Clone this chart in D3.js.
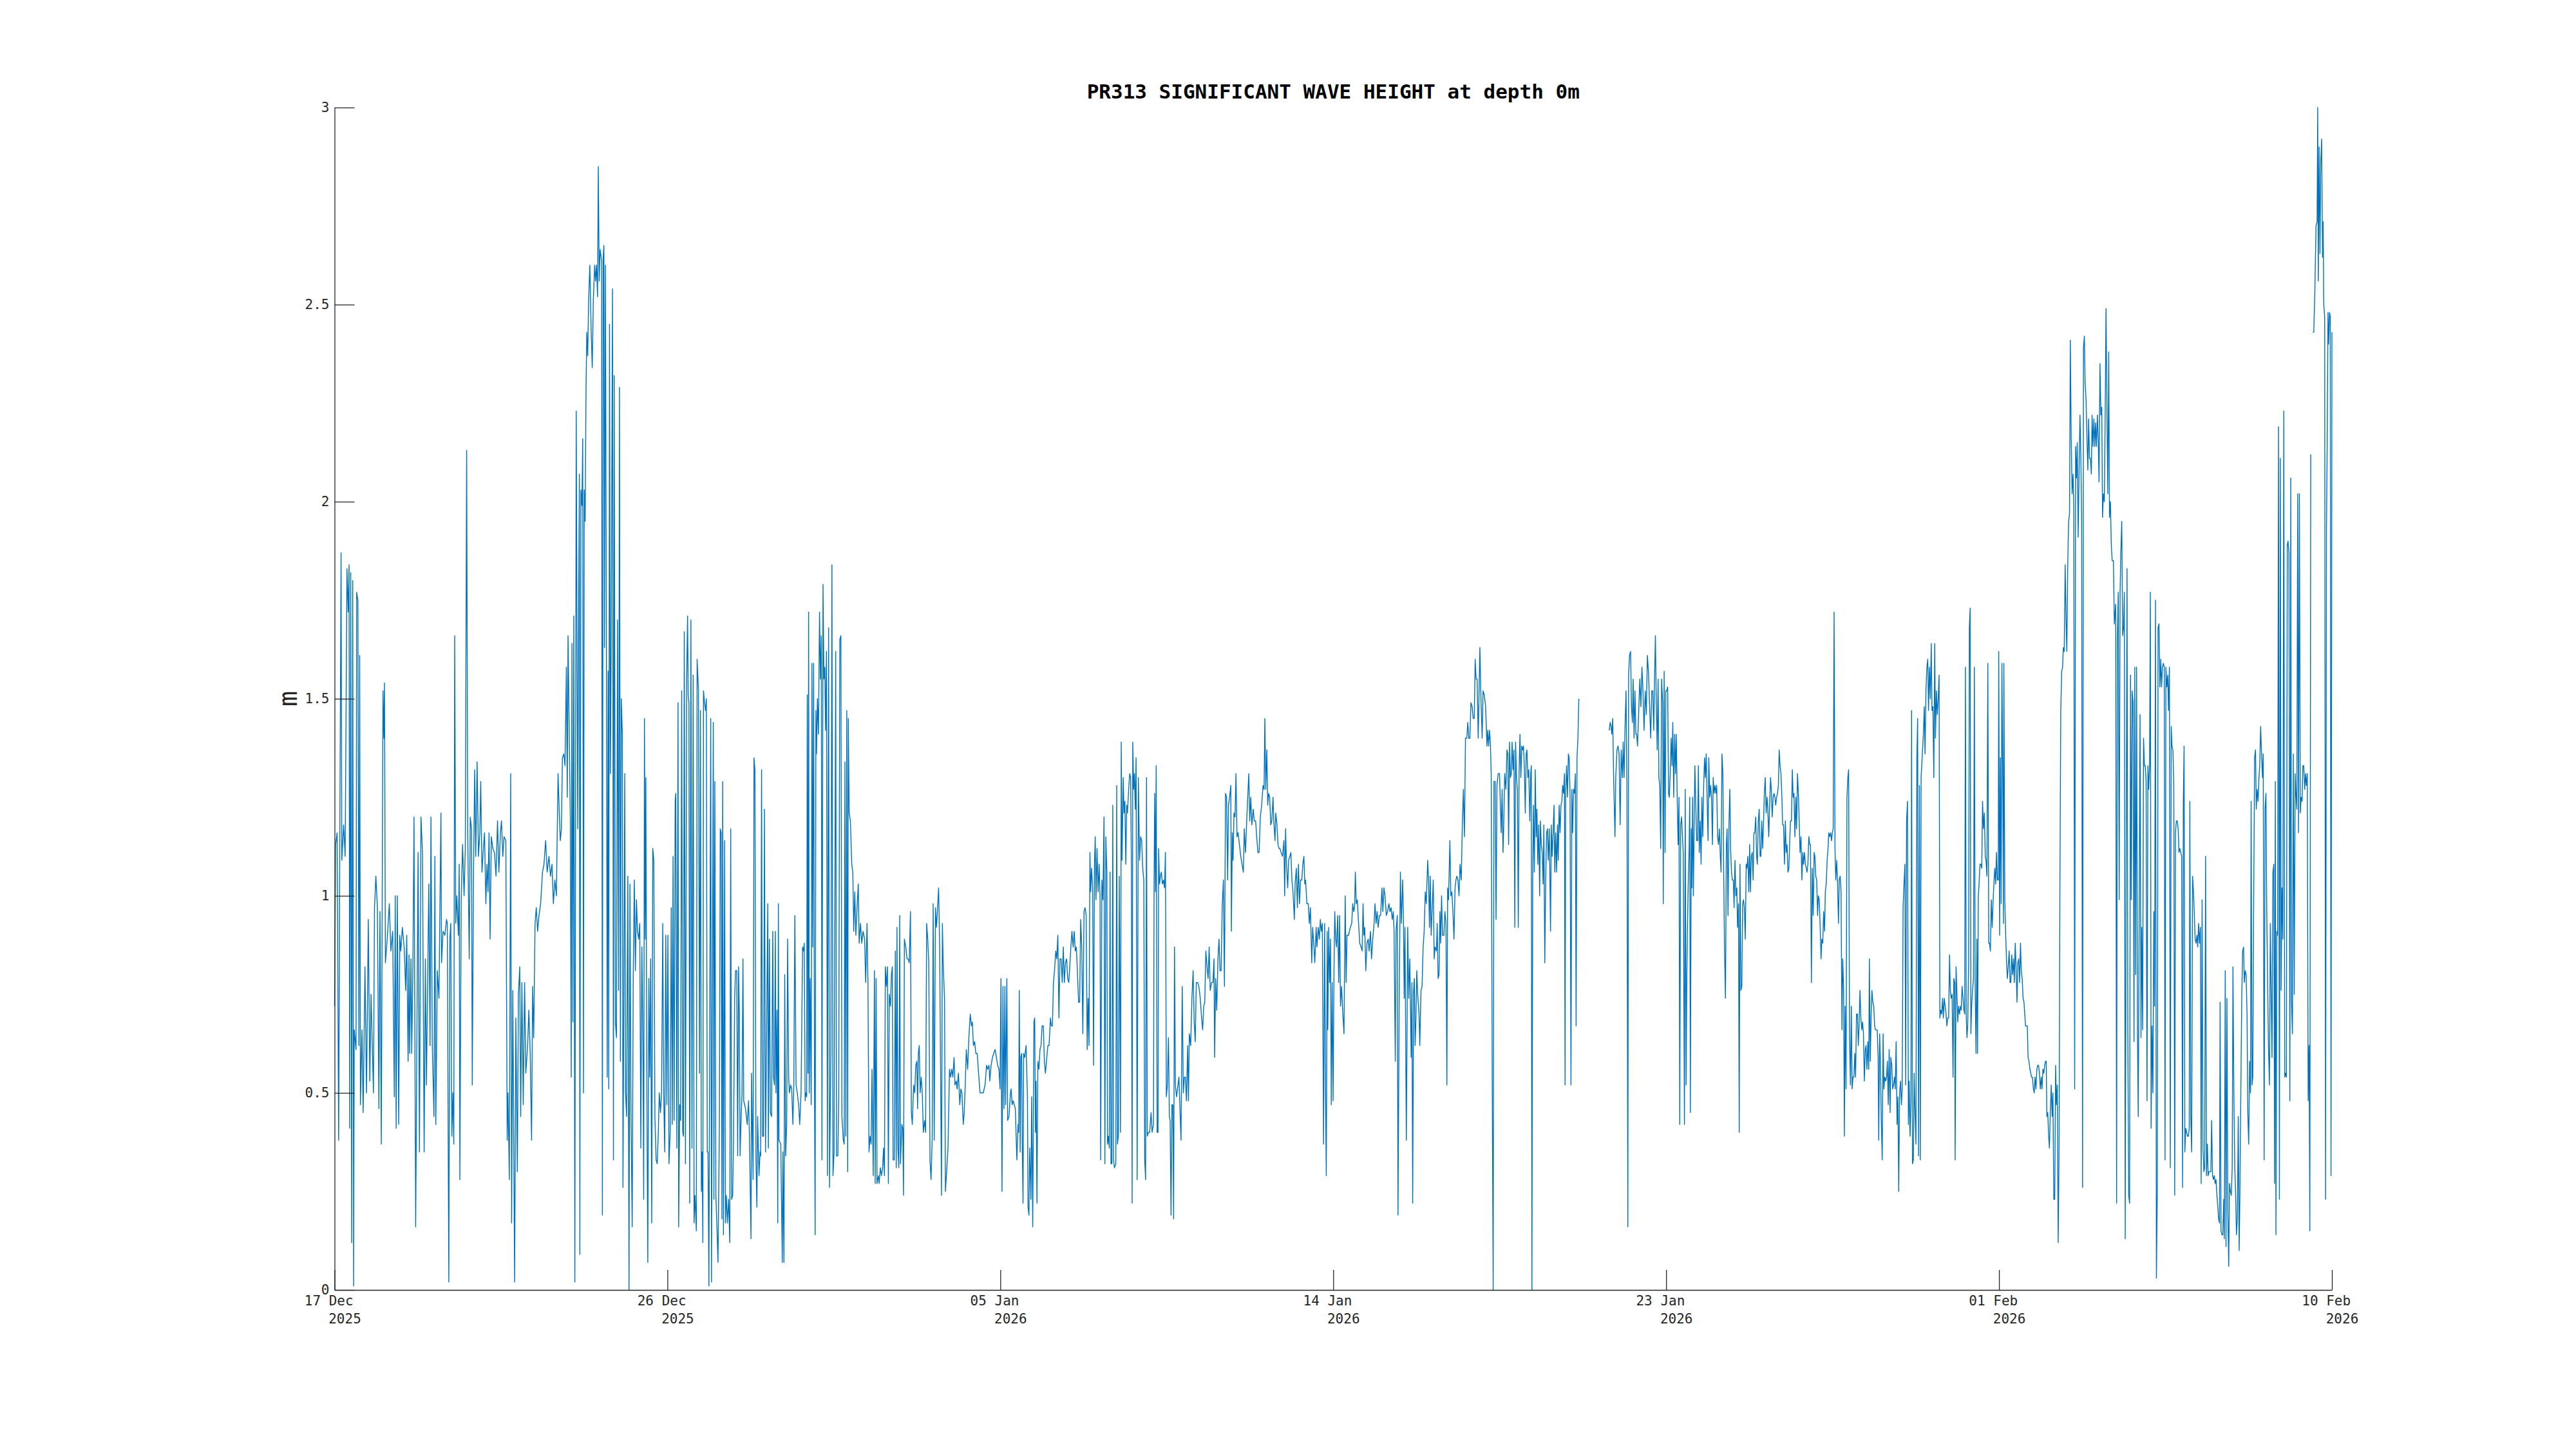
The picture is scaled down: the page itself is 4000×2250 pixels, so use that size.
<!DOCTYPE html>
<html><head><meta charset="utf-8">
<script src="https://cdn.jsdelivr.net/npm/d3@7"></script>
<style>body{margin:0;background:#fff}</style>
</head><body>
<svg id="chart" width="4000" height="2250" xmlns="http://www.w3.org/2000/svg"></svg>
<script>
const titleText = "PR313 SIGNIFICANT WAVE HEIGHT at depth 0m";
const yLabelText = "m";
const startTime = "2025-12-17T18:00:00";
const spanHours = 1320;
const xTickHours = [0, 220, 440, 660, 880, 1100, 1320];
const xTickDay = ["17 Dec", "26 Dec", "05 Jan", "14 Jan", "23 Jan", "01 Feb", "10 Feb"];
const xTickYear = ["2025", "2025", "2026", "2026", "2026", "2026", "2026"];
const yTickValues = [0, 0.5, 1, 1.5, 2, 2.5, 3];
const yTickLabels = ["0", "0.5", "1", "1.5", "2", "2.5", "3"];

// [hours since start, significant wave height (m)]
const waveDec17 = [[0,0.72],[0.7,1.13],[1.7,1.16],[2.7,0.38],[3.6,1.26],[4.3,1.87],[4.8,1.09],[6,1.18],[7,1.1],[8.2,1.83],
[9,1.72],[9.6,1.84],[10,0.41],[10.7,1.82],[11.3,0.12],[12,1.8],[12.6,0.01],[13,0.66],[14.2,0.61],[14.6,1.77],
[15.4,1.75],[16.1,0.62],[16.6,1.61],[17.1,0.47],[18.1,0.66],[18.9,0.45],[20.1,0.82],[21.1,0.5],[22.3,0.94],[23.3,0.53],
[24.1,0.75],[25.7,0.5],[26.4,0.97],[27.3,1.05],[28.3,0.97],[29.3,0.46],[30,0.96],[30.9,0.37],[32,1.52],[32.6,1.4],
[33,1.54],[33.6,0.83],[34.8,0.89],[36.2,0.98],[37.2,0.86],[38.4,0.91],[39.5,0.49],[40.1,1],[40.7,0.41],[41.5,1],
[42.4,0.42],[43.1,0.9],[43.8,0.86],[44.8,0.92],[46,0.87],[47,0.76],[47.7,0.9],[48.6,0.58],[49.2,0.85],[49.6,0.6],
[50.5,0.84],[51,0.6],[51.8,0.83],[52.5,1.2],[53.6,0.16],[55.2,1.11],[56.1,0.35],[57.1,1.2],[58.1,1.11],[59.2,0.35],
[60,0.84],[60.7,0.52],[62.3,1.03],[63.1,0.62],[63.7,1.2],[64.6,0.62],[65.7,0.44],[66.3,1.1],[66.9,0.42],[67.9,0.81],
[69,0.74],[70.3,1.21],[70.7,0.83],[71.7,0.91],[72.9,0.9],[74,0.94],[74.5,0.93],[75.5,0.02],[76.2,0.89],[76.8,0.93],
[77.5,0.39],[78.2,0.5],[78.8,0.37],[79.4,1.66],[80.1,0.93],[80.8,1],[81.8,0.9],[82.4,1.08],[82.8,0.28],[83.7,0.99],
[84.6,1.13],[85.6,1],[86.4,1.12],[87.3,2.13],[88,1.16],[89,0.84],[89.7,1.2],[90.5,1.17],[91,0.52],[91.8,1.04],
[92.6,1.32],[93.3,1.1],[94.2,1.34],[95.1,1.1],[96,1.16],[96.6,1.29],[97.4,1.06],[98.2,1.11],[99.1,1.16],[100,0.98],
[100.7,1.08],[101.4,1.01],[102.1,1.16],[102.8,0.89],[103.6,1.15],[104.6,1.12],[105.7,1.11],[106.7,1.05],[107.7,1.19],[108.6,1.06],
[109.6,1.16],[110.3,1.19],[111.2,1.1],[112,1.15],[113.2,1.14],[114.1,0.38],[114.6,0.5],[115.5,0.28],[116.4,1.31],[117,0.17],
[117.8,0.76],[119,0.02],[119.8,0.69],[120.8,0.3],[121.5,0.75],[122.4,0.82],[123,0.44],[123.8,0.78],[124.7,0.47],[125.6,0.78],
[126.4,0.55],[127.6,0.62],[128.4,0.71],[129.3,0.6],[130.2,0.38],[130.9,0.77],[131.6,0.64],[132.5,0.93],[133.3,0.97],[134.2,0.91],
[135.1,0.95],[136.2,0.98],[137.4,1.06],[138.4,1.08],[139.5,1.14],[140.5,1.06],[141.7,1.1],[142.7,1.05],[143.7,1.08],[144.6,0.98],
[145.6,1.04],[146.6,1],[147.7,1.31],[148.6,1.2],[149.2,1.14],[149.9,1.17],[150.6,1.35],[151.5,1.36],[152.3,1.33],[153.2,1.58],
[153.8,1.25],[154.3,1.66],[154.9,1.47],[155.8,1.2],[156.4,0.54],[156.9,1.64],[157.5,0.68],[158.1,1.71],[158.8,0.02],[159.7,2.23],
[160.7,1.17],[161.4,1.78],[161.8,2.07],[162.1,0.09],[162.8,2.03],[163.5,1.99],[164,2.16],[164.5,0.5],[165,2.03],[165.6,1.95],
[166.2,2.29],[166.7,2.43],[167.3,2.37],[167.9,2.51],[168.7,2.6],[169.6,2.43],[170.3,2.34],[171,2.51],[171.9,2.6],[172.5,2.56],
[173.1,2.6],[173.8,2.52],[174.3,2.85],[174.9,2.56],[175.5,2.64],[176.5,2.61],[177,0.19],[177.5,2.62],[178,2.65],[178.4,1.63],
[179,2.6],[179.7,1.57],[180.2,0.54],[180.8,1.57],[181.2,0.51],[181.7,2.45],[182.3,1.31],[182.8,1.62],[183.7,2.54],[184.3,0.33],
[184.8,2.32],[185.6,0.68],[186.3,0.64],[187,1.7],[187.7,0.76],[188.3,2.29],[188.9,0.58],[189.5,1.5],[190.2,1.41],[190.6,0.26],
[191.2,0.76],[191.8,1.31],[192.3,0.5],[193,0.44],[193.8,1.05],[194.6,0],[195.2,1.03],[195.9,0.45],[196.7,0.16],[197.4,0.8],
[198.1,1.04],[198.8,0.81],[199.5,0.99],[200.2,0.91],[201,0.89],[201.7,0.93],[202.4,0.36],[203.1,0.87],[203.8,0.62],[204.3,0.23],
[204.8,1.45],[205.3,0.89],[205.7,1.3],[206.4,0.5],[207,0.07],[207.7,0.79],[208.3,0.54],[208.9,0.84],[209.6,0.17],[210.3,1.12],
[211,1.09],[211.7,0.44],[212.5,0.33],[213.2,0.32],[213.9,0.39],[214.6,0.5],[215.4,0.45],[216.1,0.5],[216.9,0.93],[217.5,0.5],
[218.2,0.35],[218.9,0.9],[219.6,0.47],[220.3,0.9],[221,0.32],[221.8,0.4],[222.5,0.97],[223.2,0.42]];

const waveDec26 = [[223.7,1.1],[224.4,0.43],[225.1,1.24],[225.5,1.26],[226.2,0.36],[227,1.49],[227.4,0.16],[228.1,0.47],[228.7,0.43],[229.4,1.52],
[230.1,0.4],[230.6,0.39],[231.1,1.67],[231.9,0.32],[232.7,1.55],[233.3,1.71],[233.7,1.51],[234.2,1.49],[234.7,0.22],[235.5,1.7],
[236.2,0.36],[237,1.56],[237.6,0.17],[238.2,0.24],[239.1,0.15],[239.6,1.6],[240.5,1.52],[241.2,0.55],[241.8,1.47],[242.4,0.25],
[242.9,0.35],[243.4,0.12],[243.8,1.52],[244.5,1.49],[245.2,1.47],[245.7,1.5],[246.3,0.35],[246.8,0.35],[247.4,0.01],[248.6,1.45],
[249.1,0.02],[250.3,1.44],[250.7,0.23],[251.3,1.29],[252,0.24],[252.7,0.16],[253.4,0.07],[254.3,0.41],[254.9,1.17],[255.5,1.16],
[256,0.18],[256.5,1.29],[257,0.14],[257.8,1.14],[258.3,0.17],[258.9,0.24],[259.6,0.17],[260.4,0.23],[261.2,0.12],[261.8,1.17],
[262.4,0.23],[263.1,0.24],[263.7,0.39],[264.4,0.74],[265,0.81],[265.8,0.81],[266.4,0.34],[267,0.82],[267.5,0.7],[268,0.34],
[268.7,0.44],[269.3,0.5],[269.9,0.84],[270.4,0.48],[271.6,0.46],[272.7,0.42],[273.6,0.48],[274.2,0.39],[275.2,0.13],[275.6,0.55],
[276.6,0.28],[277.2,1.35],[277.8,1.32],[278.5,0.33],[279.1,0.21],[279.6,0.44],[280.5,0.29],[281.2,0.35],[281.6,0.34],[282.2,1.32],
[282.8,0.39],[283.5,0.39],[284.1,1.22],[284.8,0.35],[285.4,0.6],[286.3,0.98],[286.7,0.36],[287.4,0.89],[288,0.45],[288.8,0.44],
[289.6,0.91],[290.1,0.54],[290.7,0.52],[291.3,0.91],[291.7,0.5],[292.4,0.71],[292.9,0.17],[293.3,0.98],[293.7,0.38],[294.9,0.37],
[295.9,0.07],[296.3,0.35],[297,0.07],[297.5,0.8],[298.1,0.34],[298.8,0.42],[299.4,0.89],[300.1,0.54],[300.6,0.5],[301.4,0.52],
[302.1,0.51],[302.9,0.42],[303.5,0.52],[304.2,0.95],[305,0.52],[305.8,0.5],[306.7,0.47],[307.4,0.42],[308.3,0.5],[309.3,0.87],
[309.9,0.86],[310.4,0.88],[311,0.48],[311.4,0.5],[312,0.49],[312.4,1.51],[312.9,0.55],[313.3,1.72],[313.7,0.5],[314.3,0.79],
[315,0.47],[315.5,1.59],[316,0.87],[316.6,1.59],[317.2,0.5],[317.6,0.14],[318.1,1.47],[318.5,1.36],[319.1,1.5],[319.8,1.41],
[320.5,1.72],[321.1,1.55],[321.7,1.66],[322.1,0.33],[322.8,1.79],[323.4,1.55],[324,1.58],[324.5,1.42],[325.1,1.62],[325.7,0.29],
[326.5,1.68],[327.1,0.26],[328,0.61],[328.7,1.84],[329.4,0.29],[330.1,0.35],[331.2,1.62],[331.7,0.34],[332.6,0.34],[333.2,0.49],
[333.9,1.65],[334.6,1.66],[335.3,0.44],[336.2,0.38],[336.8,0.37],[337.3,1.34],[337.9,0.39],[338.5,1.47],[339.1,0.3],[339.5,1.45],
[340.1,1.21],[340.9,1.19],[341.8,1.08],[342.5,1.06],[343.1,0.91],[343.8,1.01],[344.5,0.9],[345.3,0.97],[346.1,1.03],[346.7,0.88],
[347.6,0.93],[348.4,0.88],[349.3,0.91],[350.3,0.89],[351,0.78],[351.9,0.93],[352.5,0.78],[353.2,0.35],[353.9,0.39],[354.6,0.37],
[355.2,0.56],[356,0.29],[356.8,0.81],[357.3,0.27],[357.9,0.79],[358.5,0.27],[359.4,0.29],[359.9,0.27],[360.7,0.31],[361.4,0.29],
[362.2,0.31],[362.8,0.36],[363.4,0.29],[364,0.82],[364.7,0.77],[365.4,0.82],[366,0.27],[366.6,0.75],[367.4,0.72],[368,0.8],
[368.6,0.82],[369.1,0.33],[369.9,0.33],[370.6,0.86],[371.2,0.31],[371.7,0.92],[372.3,0.36],[372.9,0.31],[373.5,0.95],[374,0.32],
[374.9,0.42],[375.5,0.41],[376,0.24],[376.6,0.89],[377.5,0.87],[378.3,0.84],[379.1,0.84],[379.8,0.83],[380.6,0.96],[381.2,0.45],
[381.8,0.42],[382.7,0.52],[383.4,0.5],[384.1,0.57],[384.8,0.58],[385.3,0.46],[385.8,0.6],[386.4,0.62],[387,0.5],[387.7,0.54],
[388.4,0.5],[389.1,0.4],[389.9,0.43],[390.6,0.4],[391.3,0.93],[392,0.89],[392.7,0.83],[393.5,0.33],[394.2,0.28],[395,0.39],
[395.6,0.98],[396.3,0.38],[397.1,0.97],[397.8,0.92],[398.5,0.97],[399.2,1.02],[399.9,0.87],[400.4,0.61],[401.1,0.24],[401.7,0.93],
[402.2,0.83],[403.1,0.74],[403.7,0.25],[404.5,0.3],[405.4,0.36],[406.4,0.56],[407.1,0.54],[407.9,0.56],[408.6,0.54],[409.4,0.59],
[410,0.52],[410.9,0.53],[411.4,0.51],[412.3,0.55],[413.2,0.47],[413.9,0.51],[414.6,0.5],[415.5,0.42],[416.1,0.45],[416.9,0.53],
[417.5,0.61],[418.4,0.56],[419.2,0.64],[420.1,0.7],[420.9,0.67],[421.5,0.68],[422.2,0.62],[423,0.63],[423.8,0.6],[424.7,0.6],
[425.6,0.55],[426.6,0.5],[427.6,0.5],[428.7,0.5],[429.9,0.52],[430.9,0.57],[431.6,0.56],[432.5,0.57],[433,0.53],[433.9,0.57],
[434.8,0.59],[435.6,0.6],[436.5,0.61],[437.4,0.59],[438.2,0.57],[439.1,0.56],[439.8,0.51],[440.4,0.79],[441.1,0.25],[441.7,0.77],
[442.4,0.46],[443,0.77],[443.5,0.47],[444.3,0.79],[444.8,0.43],[445.7,0.44],[446.7,0.5]];

const waveJan05 = [[447.1,0.51],[447.8,0.47],[448.5,0.48],[449.2,0.47],[449.9,0.46],[450.9,0.33],[451.7,0.42],[452.1,0.4],[452.5,0.76],[453.1,0.35],
[453.5,0.59],[454.1,0.6],[454.5,0.36],[455,0.22],[455.4,0.6],[456.1,0.59],[457,0.62],[457.9,0.49],[458.3,0.21],[458.9,0.19],
[459.4,0.36],[460.2,0.23],[460.7,0.49],[461.4,0.16],[462.2,0.68],[462.7,0.69],[463.2,0.4],[463.6,0.53],[464.2,0.22],[464.8,0.58],
[465.5,0.56],[466.2,0.61],[466.9,0.62],[467.6,0.67],[468.4,0.67],[469.1,0.58],[469.8,0.55],[470.5,0.58],[471.4,0.62],[472.2,0.62],
[473.1,0.69],[473.7,0.67],[474.4,0.67],[475.1,0.78],[475.8,0.81],[476.6,0.86],[477.3,0.84],[478,0.9],[478.7,0.69],[479.4,0.84],
[480.2,0.84],[480.9,0.78],[481.6,0.87],[482.3,0.78],[483,0.83],[483.8,0.84],[484.5,0.79],[485.2,0.78],[485.9,0.82],[486.6,0.87],
[487.3,0.91],[488.1,0.87],[488.8,0.91],[489.5,0.86],[490.2,0.87],[490.9,0.81],[491.7,0.73],[492.4,0.73],[493.1,0.94],[493.8,0.87],
[494.5,0.65],[495.3,0.96],[496,0.97],[496.7,0.95],[497.4,0.61],[498,0.74],[498.6,0.62],[499.2,1.11],[499.7,1.01],[500.3,1.07],
[501,1.02],[501.6,0.57],[502.2,1.08],[502.7,1.15],[503.2,0.99],[503.9,1.12],[504.6,1.01],[505.3,1.08],[505.9,0.99],[506.3,0.33],
[507.1,1.04],[507.8,0.99],[508.5,1.2],[509.1,0.32],[509.7,1.15],[510.4,1.06],[510.8,0.37],[511.4,0.39],[512,0.36],[512.5,1.06],
[513.1,0.32],[513.7,0.32],[514.3,1.23],[514.8,0.33],[515.4,0.31],[516.3,0.32],[516.9,1.28],[517.4,0.37],[518,0.39],[518.6,1.05],
[519.4,0.4],[519.9,1.39],[520.4,1.09],[521.2,1.3],[521.7,1.21],[522.3,1.24],[522.9,1.08],[523.5,1.23],[524,1.21],[524.8,1.27],
[525.5,1.31],[526.1,1.3],[526.6,1.08],[527.1,0.22],[527.5,1.39],[528.1,1.27],[528.6,1.31],[529.2,1.22],[529.7,1.35],[530.4,0.28],
[531.2,1.3],[532,1.09],[532.7,1.15],[533.4,1.14],[534.1,1.07],[534.8,1.04],[535.4,0.33],[536,0.28],[536.6,1.3],[537.1,0.39],
[537.9,0.4],[538.7,0.4],[539.6,0.45],[540.3,0.4],[541.2,0.42],[541.6,1.03],[542,1.26],[542.5,1.01],[543,1.33],[543.6,0.4],
[544.2,0.4],[544.6,1.12],[545.2,1.03],[545.8,1.05],[546.4,1.06],[547.1,1.03],[547.8,1.04],[548.5,1.02],[549.1,1.11],[549.7,0.49],
[550.4,0.52],[551.1,0.64],[551.7,0.44],[552.2,0.43],[552.8,0.19],[553.4,0.47],[554,0.47],[554.5,0.18],[555.1,0.87],[555.7,0.52],
[556.4,0.49],[557.1,0.51],[558,0.54],[558.7,0.46],[559.4,0.38],[560.2,0.77],[560.9,0.5],[561.6,0.54],[562.3,0.54],[563,0.48],
[563.8,0.62],[564.3,0.48],[564.9,0.65],[565.8,0.62],[566.6,0.74],[567.4,0.81],[568.1,0.68],[568.8,0.63],[569.5,0.78],[570.4,0.78],
[571.2,0.77],[572.1,0.74],[573,0.69],[573.7,0.66],[574.4,0.72],[575.1,0.73],[575.8,0.86],[576.6,0.82],[577.3,0.79],[578,0.87],
[578.7,0.76],[579.6,0.78],[580.5,0.78],[581.2,0.84],[581.6,0.59],[582.3,0.79],[583,0.71],[583.8,0.84],[584.5,0.89],[585.2,0.81],
[585.9,0.81],[586.6,0.97],[587.4,1.04],[588.1,0.77],[588.8,1.26],[589.5,1.25],[590.2,1.04],[590.8,1.23],[591.5,1.25],[592.3,1.28],
[592.7,0.91],[593.3,1.16],[593.8,1.09],[594.4,1.21],[595.1,1.2],[595.7,1.31],[596.4,1.15],[597.1,1.16],[598,1.13],[598.9,1.1],
[599.7,1.08],[600.6,1.06],[601.2,1.17],[602,1.11],[602.9,1.2],[603.6,1.26],[604.2,1.31],[604.8,1.19],[605.5,1.25],[606.2,1.18],
[607.1,1.22],[607.8,1.19],[608.7,1.19],[609.4,1.15],[610.2,1.11],[611,1.11],[611.8,1.2],[612.7,1.23],[613.6,1.28],[614.3,1.27],
[614.8,1.45],[615.4,1.27],[616.1,1.37],[616.7,1.23],[617.3,1.26],[618,1.25],[618.7,1.18],[619.4,1.19],[620.2,1.25],[620.7,1.19],
[621.5,1.14],[622,1.21],[622.8,1.18],[623.5,1.13],[624.2,1.12],[624.8,1.12],[625.5,1.11],[626.5,1.1],[627.4,1.14],[627.9,1],
[628.5,1.17],[629.1,1.08],[629.9,1.02],[630.5,1.09],[631.3,1.1],[632,1.11],[632.7,1.04],[633.4,1.01],[634.3,0.94],[634.8,1.03],
[635.6,1.07],[636.3,0.97],[637,1.08],[637.7,0.98],[638.4,1.04],[639.2,1.04],[639.9,1.08],[640.6,1.1],[641.2,1.03],[641.7,1.04],
[642.6,0.98],[643.5,0.98],[644.2,0.93],[644.9,0.97],[645.8,0.83],[646.4,0.92],[647.1,0.88],[647.8,0.83],[648.7,0.92],[649.2,0.87],
[650.1,0.92],[650.8,0.89],[651.5,0.94],[652.1,0.91],[652.8,0.93],[653.6,0.37],[654.3,0.93],[654.9,0.5],[655.4,0.29],[656,0.91],
[656.4,0.66],[657,0.92],[657.6,0.78],[658.2,0.89],[658.7,0.47],[659.3,0.78],[659.9,0.48],[660.5,0.81],[661,0.96],[661.6,0.89],
[662.2,0.87],[662.9,0.95],[663.6,0.78],[664.2,0.95],[664.8,0.72],[665.5,0.77],[666.2,0.71],[667.1,0.65],[667.9,1],[668.5,0.78],
[669.1,0.9],[670.1,0.9]];

const waveJan14 = [[671.3,0.92],[672.2,0.93],[672.9,0.98],[673.5,0.96],[674.1,0.97],[674.6,1.06],[675.2,0.98],[675.9,0.99],[676.6,0.94],[677.5,0.88],
[678.4,0.87],[679.1,0.86],[679.7,0.98],[680.2,0.9],[680.8,0.92],[681.5,0.81],[682.3,0.88],[683.1,0.89],[683.7,0.86],[684.6,0.91],
[685.3,0.84],[686.1,0.89],[687,0.93],[687.6,0.98],[688.3,0.93],[689,0.96],[689.7,0.92],[690.5,0.95],[691.3,0.95],[692.2,1.02],
[692.8,0.96],[693.5,1.02],[694.2,1],[695.1,0.95],[695.9,0.96],[696.8,0.98],[697.5,0.96],[698.2,0.97],[699,0.94],[699.7,0.96],
[700.2,0.91],[701,0.58],[701.5,0.91],[702.3,0.95],[702.8,0.19],[703.6,0.75],[704.4,1.06],[705,0.93],[705.9,1.04],[706.4,0.94],
[706.9,0.74],[707.4,0.92],[708.3,0.38],[709.2,0.92],[709.9,0.74],[710.6,0.84],[711.5,0.59],[712,0.78],[712.5,0.22],[713.1,0.76],
[713.6,0.79],[714.1,0.62],[714.6,0.68],[715.2,0.81],[715.8,0.75],[716.7,0.7],[717.2,0.62],[718,0.76],[718.7,0.77],[719.4,0.87],
[720.1,0.91],[720.8,1.01],[721.5,0.98],[722.4,1.09],[723,1.04],[723.6,0.92],[724.1,1.05],[724.7,0.9],[725.4,0.97],[726.1,1.04],
[726.7,0.84],[727.3,0.87],[728.2,0.86],[728.7,0.93],[729.3,0.79],[729.9,0.8],[730.5,0.96],[731,0.88],[731.6,1],[732.2,0.9],
[733.1,0.9],[733.8,0.96],[734.5,0.93],[735.1,0.52],[735.6,1.02],[736.2,0.99],[737.1,1.14],[737.7,1],[738.4,1.01],[739.1,0.96],
[739.8,0.89],[740.5,1.02],[741.1,1.04],[741.7,1.05],[742.4,1.04],[743.1,1],[743.8,1.08],[744.6,1.04],[745.3,1.18],[746,1.27],
[746.7,1.15],[747.4,1.4],[748.3,1.4],[748.9,1.44],[749.6,1.4],[750.3,1.4],[751,1.49],[751.8,1.48],[752.5,1.45],[753.2,1.45],
[753.8,1.6],[754.4,1.55],[755.1,1.55],[755.8,1.4],[756.4,1.52],[756.9,1.63],[757.5,1.52],[758.4,1.4],[759,1.52],[759.8,1.51],
[760.7,1.48],[761.6,1.38],[762.1,1.42],[762.7,1.38],[763.3,1.42],[763.8,1.39],[764.4,1.31],[765.1,0.51],[765.7,0],[766.2,1.29],
[767,1.29],[767.6,0.94],[768.2,1.28],[769,1.31],[769.9,1.31],[770.5,1.22],[771,1.16],[771.6,1.27],[772.2,1.11],[772.8,1.2],
[773.3,1.31],[774.1,1.27],[774.8,1.37],[775.4,1.36],[775.9,1.13],[776.5,1.39],[777.1,1.3],[777.7,1.31],[778.2,1.39],[778.8,1.32],
[779.4,1.37],[780,0.92],[780.5,1.39],[781.1,1.3],[781.7,1.27],[782.3,0.92],[782.8,1.31],[783.4,1.41],[784,1.3],[784.6,1.38],
[785.1,1.37],[785.7,1.38],[786.3,1.33],[786.9,1.21],[787.5,1.36],[788,1.37],[788.6,1.3],[789.2,1.32],[789.9,1.19],[790.5,1.31],
[790.9,1.33],[791.3,0],[791.8,1.04],[792.3,1.23],[792.9,1.06],[793.5,1.32],[794.1,1.15],[794.6,1.22],[795.2,1.08],[795.8,1.18],
[796.4,1],[796.9,1.19],[797.5,1.13],[798.1,1.11],[798.7,1.03],[799.2,1.18],[799.8,0.83],[800.4,1.04],[801,1.16],[801.6,1.17],
[802.1,1.09],[802.8,1.17],[803.6,0.91],[804.1,1.18],[804.7,1.1],[805.3,1.16],[805.9,1.23],[806.4,1.06],[807,1.16],[807.6,1.06],
[808.2,1.18],[808.7,1.09],[809.3,1.23],[809.9,1.16],[810.5,1.23],[811.1,1.24],[811.6,1.28],[812.2,1.26],[812.8,1.31],[813.2,0.52],
[813.6,1.26],[814.2,1.33],[814.8,1.25],[815.4,1.36],[815.9,1.35],[816.5,1.26],[817.1,0.52],[817.7,1.27],[818.2,1.16],[818.8,1.27],
[819.4,1.26],[820,1.31],[820.5,0.67],[821.1,1.35],[821.7,1.4],[822.3,1.5],[832,null],
[842.4,1.42],[843,1.44],[843.6,1.43],[844.1,1.41],[844.7,1.45],[845.3,1.3],[846.2,1.15],[846.7,1.3],[847.5,1.37],[848.2,1.38],
[848.9,1.36],[849.6,1.18],[850.3,1.37],[851.1,1.3],[851.6,1.39],[852.2,1.3],[852.8,1.42],[853.5,1.52],[854.1,1.28],[854.7,0.16],
[855.2,1.56],[855.8,1.61],[856.5,1.62],[857.1,1.48],[857.7,1.44],[858.2,1.55],[858.8,1.4],[859.4,1.52],[860,1.41],[860.5,1.41],
[861.1,1.38],[861.9,1.47],[862.6,1.55],[863.3,1.48],[864,1.58],[864.7,1.52],[865.4,1.42],[866.2,1.52],[866.9,1.46],[867.6,1.61],
[868.3,1.57],[869,1.49],[869.8,1.4],[870.5,1.52],[871.2,1.52],[871.8,1.42],[872.4,1.56],[872.9,1.66],[873.5,1.49],[874.1,1.37],
[874.7,1.55],[875.2,1.3],[875.8,1.28],[876.4,1.12],[877,1.55],[877.7,1.49],[878.1,0.98],[878.7,1.57],[879.3,1.11],[879.8,1.52],
[880.4,1.52],[881,1.53],[881.6,1.26],[882.1,1.25],[882.7,1.31],[883.3,1.4],[883.9,1.33],[884.4,1.44],[885,1.25],[885.6,1.41],
[886.2,1.31],[886.7,1.41],[887.3,1.25],[887.9,1.13],[888.5,1.25],[889,0.42],[889.6,1.18],[890.2,1.2],[890.8,1.15],[891.3,1.11],
[892.1,0.42],[892.6,1.27],[893.2,0.52],[893.6,0.77]];

const waveJan23 = [[894,0.9],[894.6,1.03],[895.2,1.12],[895.6,1.25],[896,0.45],[896.6,1.17],[897,1.02],[897.5,1.25],[898,1],[898.6,1.21],
[899,1.33],[899.6,1.23],[900.2,1.14],[900.8,1.14],[901.3,1.33],[901.9,1.11],[902.5,1.19],[903.1,1.08],[903.6,1.25],[904.2,1.15],
[904.8,1.28],[905.4,1.35],[905.9,1.3],[906.5,1.36],[907.1,1.24],[907.7,1.14],[908.2,1.35],[908.8,1.25],[909.4,1.28],[910,1.25],
[910.6,1.13],[911.1,1.3],[911.7,1.26],[912.3,1.28],[912.9,1.26],[913.4,1.28],[914,1.15],[914.6,1.13],[915.2,1.17],[915.7,1.11],
[916.3,1.06],[916.9,1.36],[917.5,1.31],[918,1.07],[918.6,0.86],[919.2,0.74],[919.8,1.13],[920.3,1.17],[920.9,0.95],[921.5,1.18],
[922.1,1.27],[922.6,1.12],[923.2,1.06],[923.8,1.04],[924.4,1.04],[924.9,0.97],[925.5,1.09],[926.1,1],[926.7,1.02],[927.2,0.92],
[927.8,0.98],[928.3,0.4],[928.8,1.08],[929.4,0.76],[930,0.77],[930.6,0.98],[931.1,0.99],[931.7,0.97],[932.3,0.89],[932.9,1.08],
[933.4,1.07],[934,1.1],[934.6,1.01],[935.2,1.13],[935.7,1.01],[936.3,1.1],[936.9,1.11],[937.5,1.04],[938,1.16],[938.6,1.16],
[939.2,1.2],[939.8,1.1],[940.3,1.08],[940.9,1.19],[941.5,1.22],[942.1,1.1],[942.6,1.1],[943.2,1.19],[943.8,1.12],[944.4,1.19],
[944.9,1.26],[945.5,1.3],[946.1,1.21],[946.7,1.25],[947.2,1.22],[947.8,1.15],[948.4,1.23],[949,1.3],[949.5,1.27],[950.1,1.2],
[950.7,1.25],[951.3,1.26],[951.9,1.25],[952.4,1.23],[953,1.25],[953.6,1.26],[954.2,1.28],[954.7,1.37],[955.3,1.33],[955.9,1.31],
[956.5,1.25],[957,1.18],[957.6,1.18],[958.2,1.08],[958.8,1.19],[959.3,1.11],[959.9,1.13],[960.5,1.06],[961.1,1.07],[961.6,1.13],
[962.2,1.19],[962.8,1.19],[963.4,1.32],[963.9,1.25],[964.5,1.26],[965.1,1.15],[965.7,1.25],[966.2,1.17],[966.8,1.31],[967.4,1.26],
[968,1.18],[968.5,1.11],[969.1,1.15],[969.7,1.04],[970.3,1.11],[970.8,1.08],[971.4,1.11],[972,1.08],[972.6,1.07],[973.1,1.06],
[973.7,1.08],[974.3,1.15],[974.9,1.13],[975.4,1.13],[976,0.78],[976.6,1.07],[977.2,0.95],[977.8,1.11],[978.3,1.1],[978.9,1.05],
[979.5,1.04],[980.1,0.95],[980.6,1],[981.2,0.99],[981.8,0.92],[982.4,0.84],[982.9,0.89],[983.5,0.88],[984.1,0.96],[984.7,0.91],
[985.2,1.01],[985.8,1.03],[986.4,1.09],[987,1.12],[987.5,1.16],[988.1,1.15],[988.7,1.16],[989.3,1.14],[989.8,1.16],[990.4,1.17],
[991,1.72],[991.6,1.12],[992.1,1.04],[992.7,1.09],[993.3,1.03],[993.9,0.93],[994.4,1.04],[995,1.05],[995.6,1.01],[996.2,0.66],
[996.7,0.84],[997.3,0.76],[997.8,0.39],[998.3,0.72],[998.9,0.51],[999.5,1.25],[1000.1,1.3],[1000.6,1.32],[1001.2,0.64],[1001.8,0.52],
[1002.4,0.72],[1002.9,0.51],[1003.5,0.54],[1004.1,0.54],[1004.7,0.6],[1005.2,0.54],[1005.8,0.7],[1006.4,0.7],[1007,0.62],[1007.5,0.67],
[1008.1,0.76],[1008.7,0.69],[1009.3,0.66],[1009.8,0.68],[1010.4,0.65],[1011,0.53],[1011.6,0.61],[1012.1,0.62],[1012.7,0.56],[1013.3,0.63],
[1013.9,0.56],[1014.3,0.84],[1014.9,0.58],[1015.5,0.7],[1016,0.76],[1016.6,0.73],[1017.2,0.72],[1017.8,0.67],[1018.3,0.66],[1018.9,0.66],
[1019.5,0.66],[1020.1,0.59],[1020.5,0.38],[1021.1,0.65],[1021.6,0.58],[1022.2,0.43],[1022.8,0.33],[1023.4,0.65],[1023.9,0.51],[1024.5,0.54],
[1025.1,0.53],[1025.7,0.54],[1026.2,0.58],[1026.8,0.47],[1027.4,0.61],[1028,0.45],[1028.5,0.59],[1029.1,0.57],[1029.7,0.51],[1030.3,0.52],
[1030.9,0.54],[1031.4,0.51],[1032,0.63],[1032.6,0.42],[1033.2,0.49],[1033.7,0.25],[1034.3,0.5],[1034.9,0.53],[1035.5,0.47],[1036,0.51],
[1036.6,0.97],[1037.2,1.03],[1037.8,1.08],[1038.3,0.52],[1038.9,1.19],[1039.5,1.24],[1040.1,0.42],[1040.6,0.53],[1041.2,0.39],[1041.8,0.48],
[1042.2,1.47],[1042.8,0.32],[1043.4,0.33],[1043.9,0.55],[1044.5,0.45],[1045.1,0.37],[1045.7,1.35],[1046.2,1.45],[1046.8,0.34],[1047.4,1.28],
[1048,0.33],[1048.5,1.3],[1050,1.41],[1050.6,1.48],[1051.1,1.36],[1051.7,1.52],[1052.3,1.58],[1052.9,1.6],[1053.4,1.47],[1054,1.58],
[1054.6,1.5],[1055.2,1.64],[1055.7,1.47],[1056.3,1.48],[1056.9,1.3],[1057.5,1.64],[1058,1.4],[1058.6,1.52],[1059.2,1.46],[1059.8,1.5],
[1060.4,1.56],[1060.9,0.69],[1061.5,0.71],[1062.1,0.7],[1062.7,0.74],[1063.2,0.69],[1063.8,0.74],[1064.4,0.72],[1065,0.7],[1065.5,0.67],
[1066.1,0.69],[1066.7,0.69],[1067.3,0.85],[1067.8,0.76],[1068.4,0.74],[1069,0.75],[1069.6,0.54],[1070.1,0.79],[1070.7,0.78],[1071,0.33],
[1071.6,0.82],[1072.2,0.75],[1072.7,0.68],[1073.3,0.72],[1073.9,0.7],[1074.5,0.72],[1075,0.71],[1075.6,0.77],[1076.2,0.74],[1076.8,0.71],
[1077.3,0.7],[1077.8,1.58],[1078.3,0.7],[1078.8,0.64],[1079.3,0.67],[1079.9,0.83],[1080.4,1.68],[1080.9,1.73],[1081.4,0.65],[1081.9,0.72],
[1082.5,0.76],[1083.1,0.79],[1083.7,1.58],[1084.2,0.78],[1084.8,0.6],[1085.4,0.89],[1085.8,0.6],[1086.3,1],[1086.8,1.03],[1087.4,1.08],
[1088,1.08],[1088.6,1.07],[1089.1,1.24],[1089.7,1.17],[1090.3,1.21],[1090.9,1.1],[1091.4,1.09],[1092,1.05],[1092.6,1.59],[1093.2,0.88],
[1093.7,0.88],[1094.3,0.86],[1094.9,0.99],[1095.5,0.92],[1096,0.98],[1096.6,1.03],[1097.2,1.07],[1097.8,1.03],[1098.3,1.11],[1098.9,1.04],
[1099.5,1.04],[1099.8,1.62],[1100.4,0.9],[1100.9,1.35],[1101.4,0.98],[1101.9,1.59],[1102.5,1.28],[1102.9,0.93],[1103.2,1.59],[1103.8,0.99],
[1104.4,0.9],[1105,0.83],[1105.5,0.79],[1106.1,0.82],[1106.7,0.86],[1107.3,0.78],[1107.8,0.78],[1108.4,0.85],[1109,0.8],[1109.6,0.84],
[1110.1,0.78],[1110.7,0.88],[1111.3,0.81],[1111.9,0.73],[1112.4,0.83],[1113,0.84],[1113.6,0.78],[1114.2,0.88],[1114.7,0.81],[1115.3,0.79],
[1115.9,0.74],[1116.5,0.73],[1117,0.7]];

const waveFeb01 = [[1117.5,0.67],[1118.1,0.67],[1118.7,0.67],[1119.2,0.59],[1119.8,0.58],[1120.4,0.56],[1121,0.55],[1121.5,0.54],[1122.1,0.54],[1122.7,0.51],
[1123.3,0.5],[1123.8,0.54],[1124.4,0.51],[1125,0.56],[1125.6,0.57],[1126.1,0.57],[1126.7,0.55],[1127.3,0.51],[1127.9,0.54],[1128.4,0.51],
[1129,0.56],[1129.6,0.55],[1130.2,0.57],[1130.7,0.58],[1131.2,0.58],[1131.6,0.44],[1132.2,0.45],[1132.8,0.39],[1133.3,0.36],[1133.9,0.45],
[1134.5,0.52],[1135.1,0.44],[1135.6,0.5],[1136.2,0.23],[1136.8,0.23],[1137.4,0.57],[1137.9,0.47],[1138.5,0.52],[1139.1,0.12],[1139.7,0.37],
[1140.2,0.99],[1140.8,1.47],[1141.4,1.57],[1142,1.58],[1142.5,1.63],[1143.1,1.62],[1143.7,1.84],[1144.3,1.7],[1144.8,1.62],[1145.4,1.84],
[1146,1.95],[1146.6,1.97],[1147.1,2.41],[1147.7,2.16],[1148.3,2.02],[1148.9,2.07],[1149.4,1.99],[1150,0.51],[1150.6,2.14],[1151.2,2.06],
[1151.7,2.15],[1152.3,1.91],[1152.9,2.08],[1153.5,2.22],[1154.1,2.11],[1154.6,1.95],[1155.2,0.26],[1155.8,2.39],[1156.4,2.42],[1156.9,2.3],
[1157.5,2.26],[1158.1,2.16],[1158.7,2.08],[1159.2,2.21],[1159.8,2.11],[1160.4,2.11],[1161,2.07],[1161.5,2.22],[1162.1,2.14],[1162.7,2.21],
[1163.3,2.14],[1163.8,2.2],[1164.4,2.14],[1165,2.22],[1165.6,2.15],[1166.1,2.05],[1166.7,2.35],[1167.3,2.22],[1167.9,2.24],[1168.4,1.96],
[1169,2.02],[1169.6,2],[1170.2,2.24],[1170.7,2.49],[1171.3,2.24],[1171.9,2.02],[1172.5,2.38],[1173,1.96],[1173.6,2],[1174.2,1.89],
[1174.8,1.85],[1175.6,1.85],[1176.2,1.69],[1177.1,1.74],[1177.7,0.22],[1178.2,1.65],[1178.8,1.77],[1179.4,0.99],[1180,1.77],[1180.5,1.87],
[1181.1,1.95],[1181.7,1.66],[1182.3,1.68],[1182.8,1.77],[1183.4,0.13],[1184,1.06],[1184.6,1.83],[1185.1,0.65],[1185.7,0.24],[1186.3,0.22],
[1186.9,1.56],[1187.4,0.99],[1188,1.52],[1188.6,1.49],[1189.2,0.63],[1189.7,1.58],[1190.3,0.8],[1190.9,1.58],[1191.5,0.65],[1192,0.44],
[1192.6,0.93],[1193.2,1.46],[1193.8,0.64],[1194.3,0.92],[1194.9,0.66],[1195.5,1.4],[1196.1,1.33],[1196.6,1.33],[1197.2,1.29],[1197.8,0.48],
[1198.4,1.33],[1198.9,1.27],[1199.5,1.33],[1200,1.77],[1200.5,0.41],[1201.1,0.67],[1201.7,0.5],[1202.3,0.96],[1202.8,0.72],[1203.4,1.75],
[1204,0.03],[1204.6,0.25],[1205.1,1.68],[1205.7,1.69],[1206.3,1.53],[1206.9,1.6],[1207.4,1.53],[1208,1.58],[1208.6,1.59],[1209.2,1.58],
[1209.7,0.33],[1210.3,1.58],[1210.9,1.53],[1211.5,1.56],[1212,1.47],[1212.6,1.58],[1213.2,0.31],[1213.8,1.43],[1214.3,1.38],[1214.9,1.37],
[1215.5,1.28],[1216.1,0.24],[1216.6,1.16],[1217.2,1.19],[1217.8,1.19],[1218.4,1.17],[1218.9,1.11],[1219.5,1.12],[1220.1,1.11],[1220.7,1.1],
[1221.3,0.26],[1221.8,1.24],[1222.3,1.38],[1222.8,0.35],[1223.4,0.41],[1224,0.4],[1224.6,0.39],[1225.1,0.39],[1225.7,0.41],[1226.1,1.24],
[1226.7,0.44],[1227.3,0.35],[1227.9,1.05],[1228.5,1.01],[1229,0.96],[1229.6,0.89],[1230.2,0.88],[1230.8,0.9],[1231.3,0.87],[1231.9,0.93],
[1232.5,0.88],[1233.1,0.92],[1233.6,0.27],[1234.2,0.99],[1234.8,0.36],[1235.4,0.3],[1235.9,0.31],[1236.5,1.1],[1237.1,0.29],[1237.7,0.37],
[1238.2,0.29],[1238.8,0.3],[1239.4,0.3],[1240,0.3],[1240.5,0.43],[1241.1,0.29],[1241.7,0.28],[1242.3,0.29],[1242.8,0.27],[1243.4,0.28],
[1244,0.24],[1244.6,0.21],[1245.1,0.18],[1245.7,0.17],[1246.1,0.73],[1246.7,0.15],[1247.3,0.14],[1247.9,0.14],[1248.5,0.23],[1248.9,0.13],
[1249.5,0.81],[1250,0.11],[1250.6,0.74],[1251.2,0.2],[1251.8,0.06],[1252.3,0.27],[1252.9,0.25],[1253.5,0.24],[1254.1,0.31],[1254.6,0.82],
[1255.2,0.49],[1255.8,0.31],[1256.4,0.24],[1256.9,0.14],[1257.5,0.18],[1258.1,0.44],[1258.7,0.1],[1259.2,0.25],[1259.8,0.5],[1260.4,0.74],
[1261,0.86],[1261.6,0.87],[1262.1,0.78],[1262.7,0.81],[1263.3,0.8],[1263.9,0.7],[1264.4,0.45],[1265,0.37],[1265.6,0.58],[1266.2,0.5],
[1266.6,1.24],[1267.2,0.52],[1267.7,0.54],[1268.3,0.99],[1268.9,1.35],[1269.5,1.37],[1270,1.22],[1270.6,1.27],[1271.2,1.24],[1271.8,1.3],
[1272.3,1.33],[1272.9,1.43],[1273.5,1.36],[1274.1,1.3],[1274.6,1.36],[1275.2,0.33],[1275.8,1.22],[1276.4,1.26],[1276.9,0.97],[1277.5,0.78],
[1278.1,0.61],[1278.7,0.52],[1279.3,0.93],[1279.8,0.77],[1280.4,0.59],[1281,1.06],[1281.6,1.08],[1282.1,0.27],[1282.6,1.29],[1283,0.14],
[1283.6,0.91],[1284.1,0.9],[1284.7,2.19],[1285.3,0.23],[1285.9,2.11],[1286.4,0.76],[1287,1.02],[1287.6,0.89],[1288.2,2.23],[1288.8,0.54],
[1289.3,0.55],[1289.9,0.54],[1290.5,1.89],[1291,1.9],[1291.6,1.87],[1292.2,0.48],[1292.8,2.06],[1293.3,0.73],[1293.9,0.65],[1294.5,1.36],
[1295.1,0.75],[1295.7,1.31],[1296.2,1.26],[1296.8,1.22],[1297.4,2.02],[1297.9,1.16],[1298.5,2.02],[1299.1,1.21],[1299.7,1.25],[1300.3,1.24],
[1300.8,1.33],[1301.4,1.33],[1302,1.27],[1302.6,1.31],[1303.1,1.28],[1303.7,1.31],[1304.3,0.48],[1304.9,0.62],[1305.4,0.15],[1306,2.12],
[1306.6,null],[1307.3,2.43],[1308,2.43],[1308.7,2.53],[1309.5,2.7],[1310.2,2.71],[1310.6,3],[1311,2.56],[1311.5,2.9],[1312.1,2.63],
[1312.6,2.86],[1313.2,2.92],[1313.8,2.62],[1314.2,2.71],[1314.6,2.5],[1315.2,2.47],[1315.8,0.23],[1316.4,1.93],[1316.9,2.16],[1317.4,2.48],
[1317.8,2.4],[1318.4,2.48],[1318.9,2.47],[1319.4,0.29],[1320,2.43]];

// ---------- drawing ----------
const W = 4000, H = 2250;
const plot = { left: 519.5, right: 3621, top: 167, bottom: 2003 };
const axisColor = "#262626";
const lineColor = "#0072BD";
const monoFont = "'DejaVu Sans Mono', 'Liberation Mono', monospace";

const t0 = new Date(startTime);
const toDate = h => new Date(t0.getTime() + h * 3600e3);

const series = [].concat(waveDec17, waveDec26, waveJan05, waveJan14, waveJan23, waveFeb01)
  .map(d => ({ t: toDate(d[0]), v: d[1] }));

const svg = d3.select("#chart");
svg.append("rect").attr("width", W).attr("height", H).attr("fill", "#fff");

const x = d3.scaleTime().domain([t0, toDate(spanHours)]).range([plot.left, plot.right]);
const y = d3.scaleLinear().domain([0, 3]).range([plot.bottom, plot.top]);

// data line
const line = d3.line()
  .defined(d => d.v !== null)
  .x(d => x(d.t))
  .y(d => y(d.v));

svg.append("path")
  .datum(series)
  .attr("d", line)
  .attr("fill", "none")
  .attr("stroke", lineColor)
  .attr("stroke-width", 1.4)
  .attr("stroke-linejoin", "round");

// y axis
const gy = svg.append("g")
  .attr("transform", `translate(${plot.left},0)`)
  .attr("color", axisColor)
  .call(d3.axisLeft(y).tickValues(yTickValues).tickSize(-31).tickSizeOuter(0).tickPadding(8)
    .tickFormat((d, i) => yTickLabels[i]));
gy.selectAll("path, line").attr("stroke-width", 1.3);
gy.selectAll("text")
  .attr("font-family", monoFont).attr("font-size", 21).attr("fill", axisColor);

// x axis
const xTickDates = xTickHours.map(toDate);
const gx = svg.append("g")
  .attr("transform", `translate(0,${plot.bottom})`)
  .attr("color", axisColor)
  .call(d3.axisBottom(x).tickValues(xTickDates).tickSize(-31).tickSizeOuter(0).tickFormat(() => ""));
gx.selectAll("path, line").attr("stroke-width", 1.3);
gx.selectAll(".tick").each(function (d, i) {
  const g = d3.select(this);
  g.select("text").remove();
  g.append("text")
    .attr("x", -9.3).attr("y", 24)
    .attr("text-anchor", "middle")
    .attr("font-family", monoFont).attr("font-size", 21).attr("fill", axisColor)
    .text(xTickDay[i]);
  g.append("text")
    .attr("x", 15.5).attr("y", 52)
    .attr("text-anchor", "middle")
    .attr("font-family", monoFont).attr("font-size", 21).attr("fill", axisColor)
    .text(xTickYear[i]);
});

// title
svg.append("text")
  .attr("x", (plot.left + plot.right) / 2).attr("y", 153)
  .attr("text-anchor", "middle")
  .attr("font-family", monoFont).attr("font-weight", "bold").attr("font-size", 31)
  .attr("fill", "#000")
  .text(titleText);

// y label
svg.append("text")
  .attr("transform", `translate(461,${(plot.top + plot.bottom) / 2}) rotate(-90)`)
  .attr("text-anchor", "middle")
  .attr("font-family", monoFont).attr("font-size", 40)
  .attr("fill", axisColor)
  .text(yLabelText);
</script>
</body></html>
